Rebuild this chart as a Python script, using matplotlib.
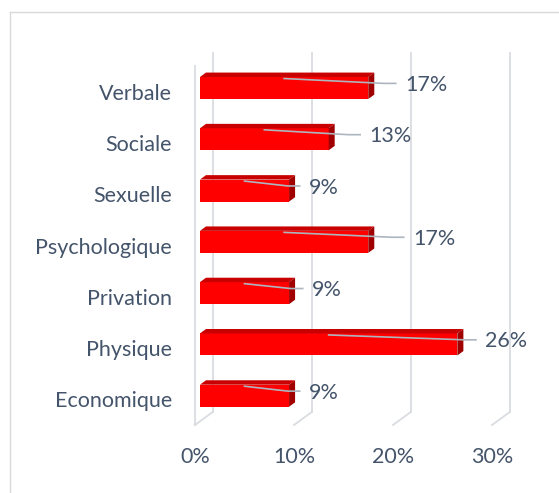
import numpy as np
import matplotlib as mpl
import matplotlib.pyplot as plt
from matplotlib.patches import Polygon
from matplotlib.lines import Line2D

# données (de bas en haut)
categories = ['Economique', 'Physique', 'Privation', 'Psychologique', 'Sexuelle', 'Sociale', 'Verbale']
values = [9, 26, 9, 17, 9, 13, 17]
xticks = [0, 10, 20, 30]
xtick_labels = ['0%', '10%', '20%', '30%']
# écart étiquette / barre (en %), placées à la main dans l'original
label_gap = [1.4, 2.2, 1.7, 3.9, 1.4, 3.5, 3.1]

mpl.rcParams['font.family'] = ['Lato', 'DejaVu Sans']
text_color = '#44546A'
grid_color = '#D9DCE1'
fs = 15.5

# effet 3D : décalage du fond (en unités de données)
dx, dy = 1.79, 0.253
f0, f1 = 0.28, 0.62   # profondeur avant / arrière des barres
h = 0.43

fig = plt.figure(figsize=(5.59, 4.93), dpi=100, facecolor='w')
# cadre du graphique
fig.add_artist(Line2D([10/559, 1], [1 - 12/493, 1 - 12/493], color='#D9D9D9', lw=1))
fig.add_artist(Line2D([10/559, 10/559], [0, 1 - 12/493], color='#D9D9D9', lw=1))

ax = fig.add_axes([195/559, 1 - 425/493, 31*9.9/559, 359/493])
ax.set_xlim(0, 31)
ax.set_ylim(-0.5, 6.5)
for s in ax.spines.values():
    s.set_visible(False)
ax.patch.set_alpha(0)

ypos = np.arange(len(categories))
ylo, yhi = ax.get_ylim()

# grille (mur du fond + sol)
for t in xticks:
    ax.plot([t + dx, t + dx], [ylo + dy, yhi + dy], color=grid_color, lw=1.3, zorder=1, clip_on=False)
    ax.plot([t, t + dx], [ylo, ylo + dy], color=grid_color, lw=1.3, zorder=1, clip_on=False)
ax.plot([0, 0], [ylo, yhi], color=grid_color, lw=1.3, zorder=1, clip_on=False)

# barres : face avant
ax.barh(ypos + f0*dy, values, left=f0*dx, height=h, color='#FF0000', zorder=3)
for y, v in zip(ypos, values):
    y0, y1 = y - h/2, y + h/2
    top = Polygon([(f0*dx, y1 + f0*dy), (v + f0*dx, y1 + f0*dy),
                   (v + f1*dx, y1 + f1*dy), (f1*dx, y1 + f1*dy)],
                  closed=True, fc='#C80000', ec='none', zorder=3, clip_on=False)
    side = Polygon([(v + f0*dx, y0 + f0*dy), (v + f1*dx, y0 + f1*dy),
                    (v + f1*dx, y1 + f1*dy), (v + f0*dx, y1 + f0*dy)],
                   closed=True, fc='#A00000', ec='none', zorder=3, clip_on=False)
    ax.add_patch(top)
    ax.add_patch(side)

# étiquettes avec lignes de repère
for y, v, g in zip(ypos, values, label_gap):
    lx = v + f1*dx + g
    ly = y + f0*dy + 0.06
    sx, sy = v/2 + f0*dx, y + h/2 + f0*dy - 0.03
    ex, ey = lx - 0.93, ly + 0.03
    ax.plot([sx, ex - 1.2, ex], [sy, ey, ey], color='#ADB5BF', lw=1.2, zorder=4, clip_on=False)
    ax.text(lx, ly, '%d%%' % v, va='center', ha='left', fontsize=fs, color=text_color, zorder=5)

ax.set_yticks(ypos)
ax.set_yticklabels(categories)
ax.set_xticks(xticks)
ax.set_xticklabels(xtick_labels)
ax.tick_params(axis='both', length=0, labelsize=fs, labelcolor=text_color)
ax.tick_params(axis='y', pad=16.5)
ax.tick_params(axis='x', pad=16)

fig.savefig('out.png', dpi=100)
